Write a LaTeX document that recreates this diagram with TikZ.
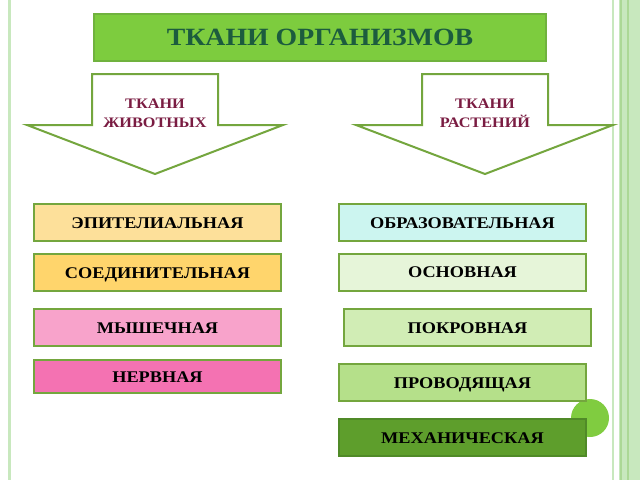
\documentclass[tikz,border=0pt]{standalone}
\usepackage{fontspec}
\setmainfont{Liberation Serif}[FakeStretch=1.12]
\definecolor{stripeL}{RGB}{200,232,190}
\definecolor{stripeD}{RGB}{172,216,150}
\definecolor{titlefill}{RGB}{125,204,62}
\definecolor{titleedge}{RGB}{112,178,62}
\definecolor{titletext}{RGB}{28,92,62}
\definecolor{edge}{RGB}{116,166,62}
\definecolor{arrtext}{RGB}{122,28,66}
\definecolor{cEpi}{RGB}{253,224,154}
\definecolor{cSoe}{RGB}{255,213,108}
\definecolor{cMys}{RGB}{248,163,203}
\definecolor{cNer}{RGB}{244,114,178}
\definecolor{cObr}{RGB}{204,245,240}
\definecolor{cOsn}{RGB}{230,245,217}
\definecolor{cPok}{RGB}{209,237,181}
\definecolor{cPro}{RGB}{181,224,138}
\definecolor{cMeh}{RGB}{94,158,44}
\definecolor{cMehE}{RGB}{80,138,40}
\definecolor{circ}{RGB}{128,204,64}
\tikzset{
  tbox/.style={draw=edge, line width=2pt, minimum width=247pt, minimum height=37pt,
    inner sep=0pt, text height=11pt, text depth=0pt,
    font=\bfseries\fontsize{16.3}{18}\selectfont, text=black},
  arrshape/.style={draw=edge, line width=2pt, fill=white, line join=miter},
  arrlabel/.style={align=center, text=arrtext, font=\bfseries\fontsize{14.5}{18}\selectfont, inner sep=0pt}
}
\begin{document}
\begin{tikzpicture}[x=1pt,y=-1pt]
\useasboundingbox (0,0) rectangle (640,480);
\fill[white] (0,0) rectangle (640,480);
% side stripes
\fill[stripeL] (8,0) rectangle (11,480);
\fill[stripeL] (612,0) rectangle (614,480);
\fill[stripeL] (619,0) rectangle (640,480);
\fill[stripeD] (620,0) rectangle (622,480);
\fill[stripeD] (626.5,0) rectangle (628.5,480);
% title
\node[draw=titleedge, fill=titlefill, line width=1.5pt, minimum width=452pt, minimum height=47pt,
  inner sep=0pt, text height=16pt, text depth=0pt, text=titletext,
  font=\bfseries\fontsize{24.8}{26}\selectfont] (title) at (320,37.5) {ТКАНИ ОРГАНИЗМОВ};
% arrows
\draw[arrshape] (92,74) -- (218,74) -- (218,125) -- (283,125) -- (155,174) -- (27,125) -- (92,125) -- cycle;
\draw[arrshape] (422,74) -- (548,74) -- (548,125) -- (613,125) -- (485,174) -- (356,125) -- (422,125) -- cycle;
\node[arrlabel] (arrL) at (155,113.5) {ТКАНИ\\[1pt]ЖИВОТНЫХ};
\node[arrlabel] (arrR) at (485,113.5) {ТКАНИ\\[1pt]РАСТЕНИЙ};
% left boxes
\node[tbox, fill=cEpi] (epi) at (157.5,222.5) {ЭПИТЕЛИАЛЬНАЯ};
\node[tbox, fill=cSoe] (soe) at (157.5,272.5) {СОЕДИНИТЕЛЬНАЯ};
\node[tbox, fill=cMys] (mys) at (157.5,327.5) {МЫШЕЧНАЯ};
\node[tbox, fill=cNer, minimum height=33pt] (ner) at (157.5,376.5) {НЕРВНАЯ};
% circle
\fill[circ] (590,418) circle (19);
% right boxes
\node[tbox, fill=cObr] (obr) at (462.5,222.5) {ОБРАЗОВАТЕЛЬНАЯ};
\node[tbox, fill=cOsn] (osn) at (462.5,272) {ОСНОВНАЯ};
\node[tbox, fill=cPok] (pok) at (467.5,327.5) {ПОКРОВНАЯ};
\node[tbox, fill=cPro] (pro) at (462.5,382.5) {ПРОВОДЯЩАЯ};
\node[tbox, fill=cMeh, draw=cMehE] (meh) at (462.5,437.5) {МЕХАНИЧЕСКАЯ};
\end{tikzpicture}
\end{document}
